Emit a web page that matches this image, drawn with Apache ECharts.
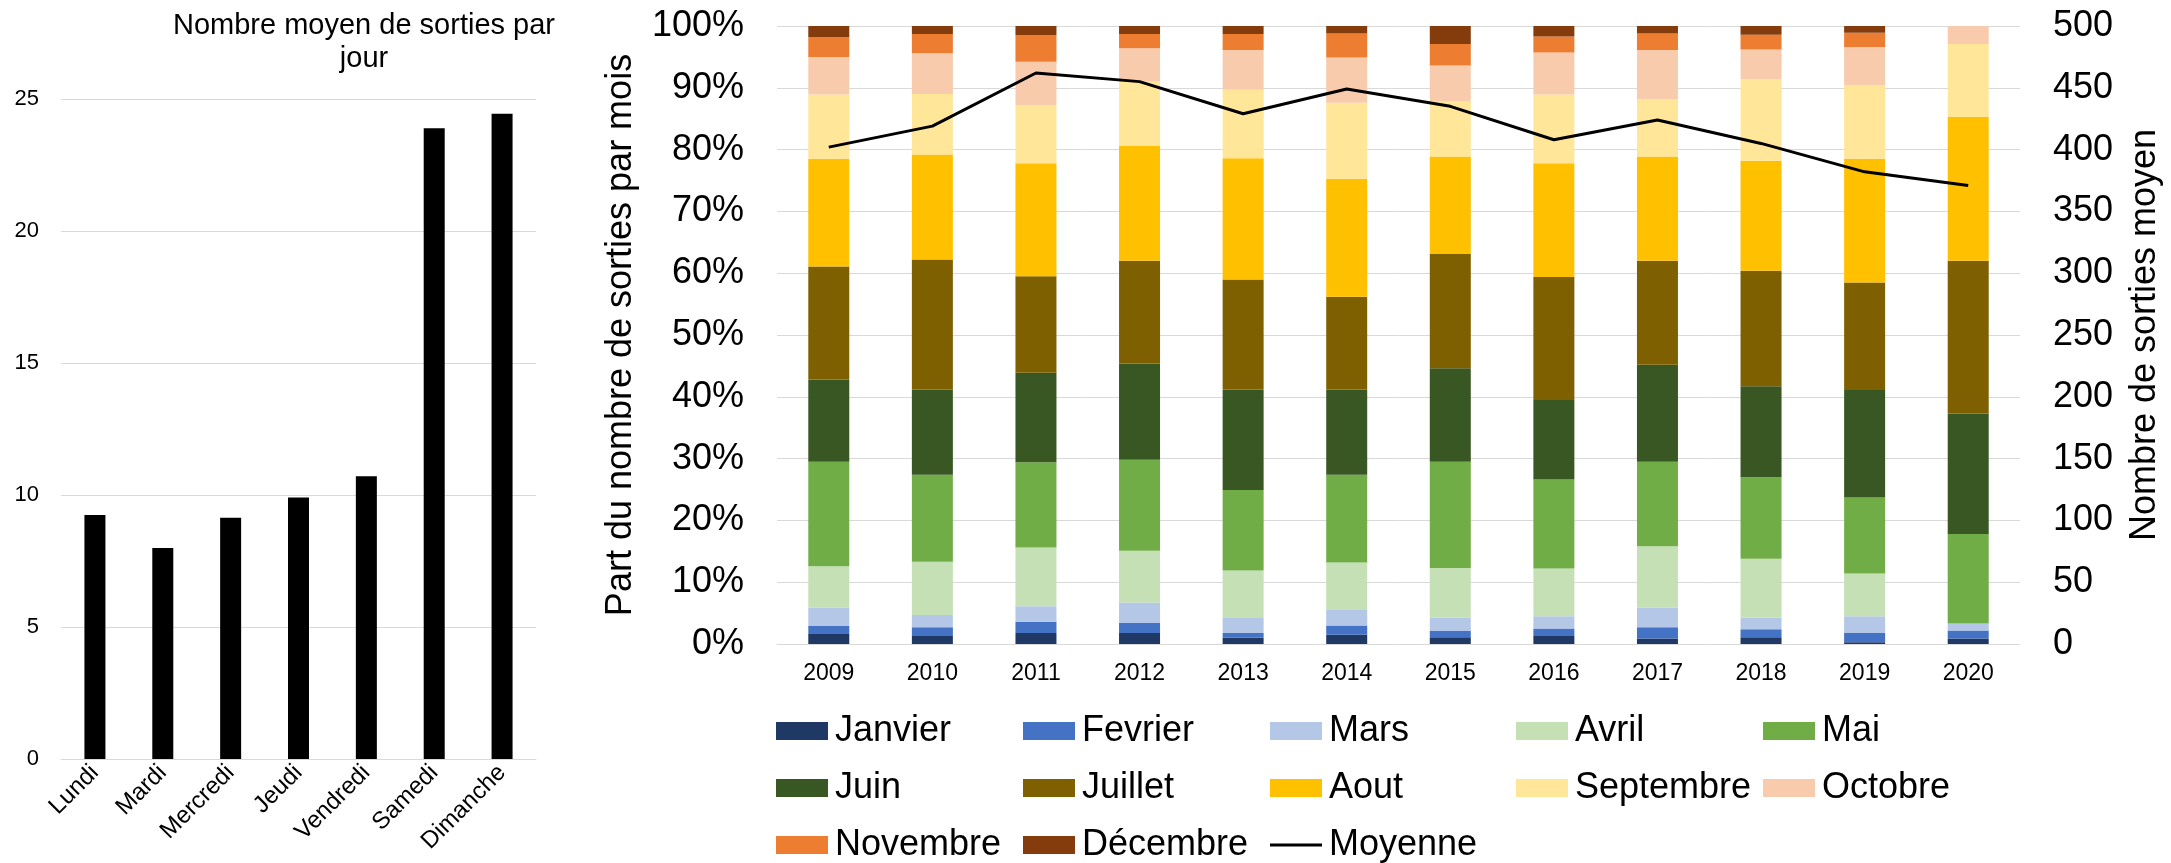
<!DOCTYPE html>
<html>
<head>
<meta charset="utf-8">
<script src="https://cdn.jsdelivr.net/npm/echarts@6/dist/echarts.min.js"></script>
<style>
  html, body { margin: 0; padding: 0; background: #fff; }
  #chart { width: 2171px; height: 863px; }
</style>
</head>
<body>
<div id="chart"></div>
<script>
// données
const jours = ['Lundi', 'Mardi', 'Mercredi', 'Jeudi', 'Vendredi', 'Samedi', 'Dimanche'];
const sortiesParJour = [9.24, 7.99, 9.14, 9.91, 10.71, 23.89, 24.44];

const annees = ['2009', '2010', '2011', '2012', '2013', '2014', '2015', '2016', '2017', '2018', '2019', '2020'];

// part (%) de chaque mois, par année
const janvier   = [1.6, 1.3, 1.8, 1.8, 1.0, 1.5, 1.1, 1.3, 0.9, 1.1, 0.3, 0.9];
const fevrier   = [1.3, 1.4, 1.8, 1.6, 0.8, 1.5, 1.0, 1.2, 1.8, 1.3, 1.5, 1.3];
const mars      = [3.0, 2.0, 2.5, 3.3, 2.4, 2.5, 2.2, 2.0, 3.2, 1.9, 2.7, 1.1];
const avril     = [6.7, 8.6, 9.5, 8.4, 7.7, 7.7, 8.0, 7.7, 9.9, 9.5, 6.9, 0];
const mai       = [16.9, 14.1, 13.8, 14.7, 13.0, 14.2, 17.2, 14.4, 13.7, 13.2, 12.3, 14.5];
const juin      = [13.3, 13.8, 14.5, 15.6, 16.3, 13.8, 15.1, 12.9, 15.7, 14.7, 17.4, 19.5];
const juillet   = [18.3, 21.0, 15.6, 16.6, 17.8, 15.0, 18.5, 19.9, 16.8, 18.7, 17.4, 24.7];
const aout      = [17.4, 17.0, 18.3, 18.6, 19.6, 19.1, 15.8, 18.4, 16.9, 17.8, 20.0, 23.3];
const septembre = [10.4, 9.8, 9.4, 10.4, 11.1, 12.3, 8.9, 11.1, 9.3, 13.2, 11.9, 11.8];
const octobre   = [6.1, 6.6, 7.0, 5.4, 6.4, 7.3, 5.8, 6.8, 7.9, 4.8, 6.2, 2.9];
const novembre  = [3.2, 3.1, 4.3, 2.3, 2.6, 3.9, 3.5, 2.6, 2.7, 2.4, 2.3, 0];
const decembre  = [1.8, 1.3, 1.5, 1.3, 1.3, 1.2, 2.9, 1.7, 1.2, 1.4, 1.1, 0];

// nombre de sorties moyen
const moyenne = [402, 419, 462, 455, 429, 449, 435, 408, 424, 405, 382, 371];

const mois = [
  { nom: 'Janvier', data: janvier, couleur: '#203864' },
  { nom: 'Fevrier', data: fevrier, couleur: '#4472C4' },
  { nom: 'Mars', data: mars, couleur: '#B4C7E7' },
  { nom: 'Avril', data: avril, couleur: '#C5E0B4' },
  { nom: 'Mai', data: mai, couleur: '#70AD47' },
  { nom: 'Juin', data: juin, couleur: '#385723' },
  { nom: 'Juillet', data: juillet, couleur: '#7F6000' },
  { nom: 'Aout', data: aout, couleur: '#FFC000' },
  { nom: 'Septembre', data: septembre, couleur: '#FFE699' },
  { nom: 'Octobre', data: octobre, couleur: '#F8CBAD' },
  { nom: 'Novembre', data: novembre, couleur: '#ED7D31' },
  { nom: 'Décembre', data: decembre, couleur: '#843C0C' }
];

const FONT = 'Liberation Sans, Arial, sans-serif';
const GRIS = '#D9D9D9';

const chart = echarts.init(document.getElementById('chart'));

// légende : une par élément, placée en grille 5 colonnes
const legendNames = mois.map(m => m.nom).concat(['Moyenne']);
const colX = [776, 1023, 1270, 1516, 1763];
const rowTop = [713, 770, 827];
const legends = legendNames.map((nom, i) => ({
  data: [nom],
  left: colX[i % 5],
  top: rowTop[Math.floor(i / 5)],
  padding: 0,
  itemWidth: 52,
  itemHeight: nom === 'Moyenne' ? 3 : 18,
  icon: 'rect',
  selectedMode: false,
  textStyle: { fontFamily: FONT, fontSize: 36, color: '#000', lineHeight: 36, padding: [0, 0, 0, 2] }
}));

const option = {
  animation: false,
  backgroundColor: '#fff',
  textStyle: { fontFamily: FONT },
  title: {
    text: 'Nombre moyen de sorties par\njour',
    left: 364,
    top: 9,
    padding: 0,
    textAlign: 'center',
    textStyle: { fontFamily: FONT, fontSize: 29, fontWeight: 'normal', color: '#000', lineHeight: 33 }
  },
  legend: legends,
  grid: [
    { left: 61, top: 99, width: 475, height: 660 },
    { left: 777, top: 26, width: 1248, height: 618 }
  ],
  xAxis: [
    {
      type: 'category',
      gridIndex: 0,
      data: jours,
      axisLine: { lineStyle: { color: GRIS, width: 1 } },
      axisTick: { show: false },
      axisLabel: { rotate: 45, interval: 0, fontSize: 24, color: '#000', margin: 10, fontFamily: FONT }
    },
    {
      type: 'category',
      gridIndex: 1,
      data: annees,
      axisLine: { lineStyle: { color: GRIS, width: 1 } },
      axisTick: { show: false },
      axisLabel: { fontSize: 23, color: '#000', margin: 18, fontFamily: FONT }
    }
  ],
  yAxis: [
    {
      type: 'value',
      gridIndex: 0,
      min: 0,
      max: 25,
      interval: 5,
      axisLine: { show: false },
      axisTick: { show: false },
      axisLabel: { fontSize: 22, color: '#000', margin: 22, fontFamily: FONT },
      splitLine: { lineStyle: { color: GRIS, width: 1 } }
    },
    {
      type: 'value',
      gridIndex: 1,
      min: 0,
      max: 100,
      interval: 10,
      name: 'Part du nombre de sorties par mois',
      nameLocation: 'middle',
      nameRotate: 90,
      nameGap: 138,
      nameTextStyle: { fontSize: 36, color: '#000', fontFamily: FONT, lineHeight: 36 },
      axisLine: { show: false },
      axisTick: { show: false },
      axisLabel: { formatter: '{value}%', fontSize: 36, color: '#000', margin: 33, fontFamily: FONT },
      splitLine: { lineStyle: { color: GRIS, width: 1 } }
    },
    {
      type: 'value',
      gridIndex: 1,
      position: 'right',
      min: 0,
      max: 500,
      interval: 50,
      name: 'Nombre de sorties moyen',
      nameLocation: 'middle',
      nameRotate: 90,
      nameGap: 107,
      nameTextStyle: { fontSize: 36, color: '#000', fontFamily: FONT, lineHeight: 36 },
      axisLine: { show: false },
      axisTick: { show: false },
      axisLabel: { fontSize: 36, color: '#000', margin: 33, fontFamily: FONT },
      splitLine: { show: false }
    }
  ],
  series: [
    {
      name: 'Sorties par jour',
      type: 'bar',
      xAxisIndex: 0,
      yAxisIndex: 0,
      data: sortiesParJour,
      barWidth: 21,
      itemStyle: { color: '#000' }
    },
    ...mois.map(m => ({
      name: m.nom,
      type: 'bar',
      stack: 'mois',
      xAxisIndex: 1,
      yAxisIndex: 1,
      data: m.data,
      barWidth: 41,
      itemStyle: { color: m.couleur }
    })),
    {
      name: 'Moyenne',
      type: 'line',
      xAxisIndex: 1,
      yAxisIndex: 2,
      data: moyenne,
      symbol: 'none',
      itemStyle: { color: '#000' },
      lineStyle: { color: '#000', width: 3 },
      z: 5
    }
  ]
};

chart.setOption(option);
</script>
</body>
</html>
